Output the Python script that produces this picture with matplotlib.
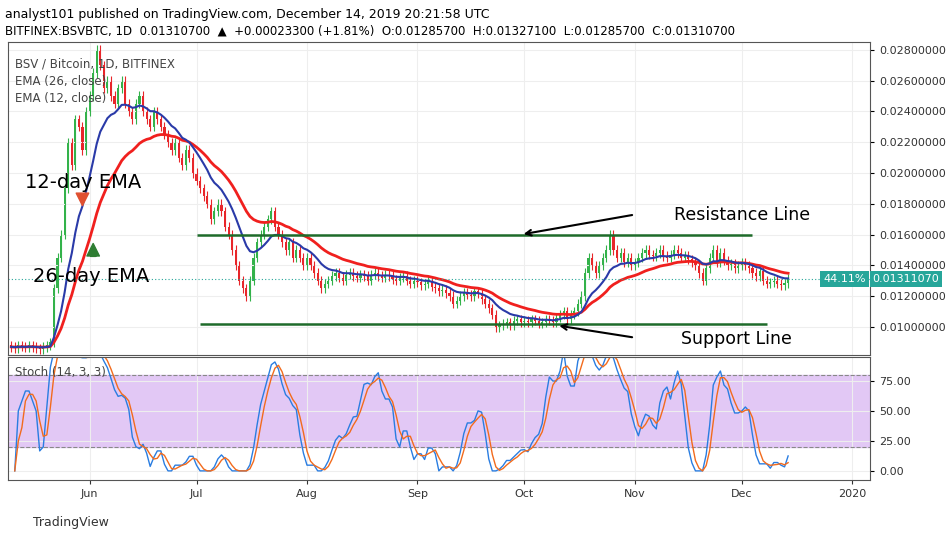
import numpy as np
import pandas as pd
import matplotlib
matplotlib.use("Agg")
import matplotlib.pyplot as plt
import matplotlib.dates as mdates
from matplotlib.ticker import FuncFormatter

# daily closes in 1e-5 BTC, 2019-05-10 .. 2019-12-14
CLOSES = [
    870, 860, 880, 875, 865, 880, 870, 860, 855, 870, 880, 900, 1250, 1450, 1600, 1900, 2200, 2050, 2350, 2300, 2150, 2400,
    2500, 2650, 2800, 2700, 2550, 2600, 2500, 2450, 2550, 2600, 2450, 2400, 2350, 2450, 2500, 2400, 2350, 2300, 2400, 2350,
    2300, 2250, 2200, 2150, 2200, 2100, 2050, 2150, 2100, 2000,
    1950, 1900, 1850, 1800, 1700, 1750, 1800, 1750, 1650, 1600, 1500, 1400, 1300, 1250, 1200, 1300, 1450, 1550, 1600, 1650,
    1700, 1750, 1650, 1600, 1550, 1500, 1550, 1450, 1500, 1450, 1400,
    1450, 1400, 1350, 1300, 1250, 1280, 1300, 1330, 1350, 1320, 1300, 1340, 1350, 1330, 1320, 1340, 1330, 1300, 1340, 1350,
    1330, 1320, 1340, 1330, 1310, 1300, 1320, 1330, 1300, 1280, 1300,
    1290, 1270, 1280, 1300, 1260, 1250, 1230, 1240, 1220, 1200, 1150, 1170, 1200, 1220, 1210, 1200, 1230, 1220, 1180, 1150,
    1120, 1080, 1000, 1010, 1020, 1030, 1010, 1040, 1050, 1030,
    1040, 1030, 1050, 1040, 1020, 1030, 1050, 1040, 1030, 1060, 1080, 1100, 1050, 1080, 1100, 1150, 1200, 1350, 1450, 1400,
    1350, 1400, 1450, 1500, 1600, 1500, 1450, 1480, 1420, 1450, 1400,
    1420, 1450, 1480, 1500, 1470, 1460, 1480, 1500, 1460, 1450, 1470, 1500, 1480, 1450, 1460, 1440, 1420, 1400, 1350, 1300,
    1380, 1450, 1500, 1420, 1480, 1430, 1400, 1410, 1380, 1400,
    1420, 1400, 1380, 1350, 1330, 1360, 1300, 1280, 1290, 1300, 1280, 1270, 1285, 1311.07,
]
FIRST_OPEN = 880
START = "2019-05-10"
PRICE_TICKS = [0.010, 0.012, 0.014, 0.016, 0.018, 0.020, 0.022, 0.024, 0.026, 0.028]
STOCH_TICKS = [0, 25, 50, 75]
RESISTANCE = 0.0160
SUPPORT = 0.0102

dates = pd.date_range(START, periods=len(CLOSES), freq="D")
close = pd.Series(np.array(CLOSES) * 1e-5, index=dates)
opn = close.shift(1).fillna(FIRST_OPEN * 1e-5)
ema12 = close.ewm(span=12, adjust=False).mean()
ema26 = close.ewm(span=26, adjust=False).mean()
lo = close.rolling(14, min_periods=1).min()
hi = close.rolling(14, min_periods=1).max()
k_raw = 100 * (close - lo) / (hi - lo).replace(0, np.nan)
k = k_raw.rolling(3, min_periods=1).mean()
d = k.rolling(3, min_periods=1).mean()

fig = plt.figure(figsize=(9.53, 5.41), dpi=100)
ax = fig.add_axes([0.008, 0.344, 0.905, 0.578])
ax2 = fig.add_axes([0.008, 0.113, 0.905, 0.227], sharex=ax)

x = mdates.date2num(dates)
up = close >= opn
cols = np.where(up, "#33b24a", "#e8262a")
ax.bar(x, (close - opn).abs().clip(lower=0.00006), bottom=np.minimum(close, opn), width=0.6, color=cols)
ax.vlines(x, np.minimum(close, opn) - 0.0003, np.maximum(close, opn) + 0.0003, color=cols, lw=0.8)
ax.plot(x, ema26, color="#f0201e", lw=2)
ax.plot(x, ema12, color="#2a3aa8", lw=1.5)

ax.set_xlim(mdates.date2num(pd.Timestamp("2019-05-09")), mdates.date2num(pd.Timestamp("2020-01-06")))
ax.set_ylim(0.00818, 0.0285)
ax.yaxis.tick_right()
ax.set_yticks(PRICE_TICKS)
ax.set_yticklabels([f"{v:.8f}" for v in PRICE_TICKS], fontsize=8, color="#333")
ax.grid(color="#eeeeee", lw=0.8)
ax.tick_params(axis="x", labelbottom=False, length=0)
ax.tick_params(axis="y", length=3)

t = lambda s: mdates.date2num(pd.Timestamp(s))
ax.hlines(RESISTANCE, t("2019-07-01"), t("2019-12-04"), color="#1e6b2a", lw=1.8)
ax.hlines(SUPPORT, t("2019-07-02"), t("2019-12-08"), color="#1e6b2a", lw=1.8)
ax.annotate("", xy=(t("2019-09-30"), 0.0160), xytext=(t("2019-11-01"), 0.0173),
            arrowprops=dict(arrowstyle="->", lw=1.5, color="black"))
ax.annotate("", xy=(t("2019-10-10"), 0.0101), xytext=(t("2019-11-01"), 0.0093),
            arrowprops=dict(arrowstyle="->", lw=1.5, color="black"))
ax.text(t("2019-11-12"), 0.0173, "Resistance Line", fontsize=12.5, va="center")
ax.text(t("2019-11-14"), 0.0092, "Support Line", fontsize=12.5, va="center")
ax.text(t("2019-05-14"), 0.0194, "12-day EMA", fontsize=14, va="center")
ax.text(t("2019-05-16"), 0.0133, "26-day EMA", fontsize=14, va="center")
ax.annotate("", xy=(t("2019-05-30"), 0.0177), xytext=(t("2019-05-30"), 0.0188),
            arrowprops=dict(arrowstyle="simple", color="#e05030", mutation_scale=18))
ax.annotate("", xy=(t("2019-06-02"), 0.0156), xytext=(t("2019-06-02"), 0.0144),
            arrowprops=dict(arrowstyle="simple", color="#2e7d32", mutation_scale=18))

last = close.iloc[-1]
ax.axhline(last, color="#26a69a", lw=0.8, ls=(0, (1, 2)))
ax.text(1.003, last, f"{last:.8f}", transform=ax.get_yaxis_transform(), fontsize=8, color="white",
        va="center", ha="left", bbox=dict(boxstyle="square,pad=0.25", fc="#26a69a", ec="none"))
ax.text(0.995, last, "44.11%", transform=ax.get_yaxis_transform(), fontsize=8, color="white",
        va="center", ha="right", bbox=dict(boxstyle="square,pad=0.25", fc="#26a69a", ec="none"))
ax.text(0.008, 0.95, "BSV / Bitcoin, 1D, BITFINEX", transform=ax.transAxes, fontsize=8.5, color="#444", va="top")
ax.text(0.008, 0.895, "EMA (26, close)", transform=ax.transAxes, fontsize=8.5, color="#444", va="top")
ax.text(0.008, 0.84, "EMA (12, close)", transform=ax.transAxes, fontsize=8.5, color="#444", va="top")

ax2.axhspan(20, 80, color="#e2c8f5")
ax2.axhline(20, color="#888", lw=0.8, ls="--")
ax2.axhline(80, color="#888", lw=0.8, ls="--")
ax2.plot(x, k, color="#2a7de1", lw=1)
ax2.plot(x, d, color="#f26b1d", lw=1)
ax2.set_ylim(-7.5, 95)
ax2.yaxis.tick_right()
ax2.set_yticks(STOCH_TICKS)
ax2.set_yticklabels([f"{v:.2f}" for v in STOCH_TICKS], fontsize=8, color="#333")
ax2.text(0.008, 0.93, "Stoch (14, 3, 3)", transform=ax2.transAxes, fontsize=8.5, color="#444", va="top")
ax2.xaxis.set_major_locator(mdates.MonthLocator())
ax2.xaxis.set_major_formatter(FuncFormatter(
    lambda v, p: "2020" if mdates.num2date(v).month == 1 else mdates.num2date(v).strftime("%b")))
ax2.tick_params(axis="x", labelsize=8, colors="#333", length=3)
ax2.tick_params(axis="y", length=3)
ax2.grid(color="#eeeeee", lw=0.8)
for a in (ax, ax2):
    for s in a.spines.values():
        s.set_color("#555")

fig.text(0.005, 0.985, "analyst101 published on TradingView.com, December 14, 2019 20:21:58 UTC",
         fontsize=9, va="top")
fig.text(0.005, 0.955, "BITFINEX:BSVBTC, 1D  0.01310700  \u25b2  +0.00023300 (+1.81%)  O:0.01285700  H:0.01327100  L:0.01285700  C:0.01310700",
         fontsize=8.5, va="top")
fig.text(0.035, 0.035, "TradingView", fontsize=9, va="center", color="#333")
fig.savefig("out.png", dpi=100)
